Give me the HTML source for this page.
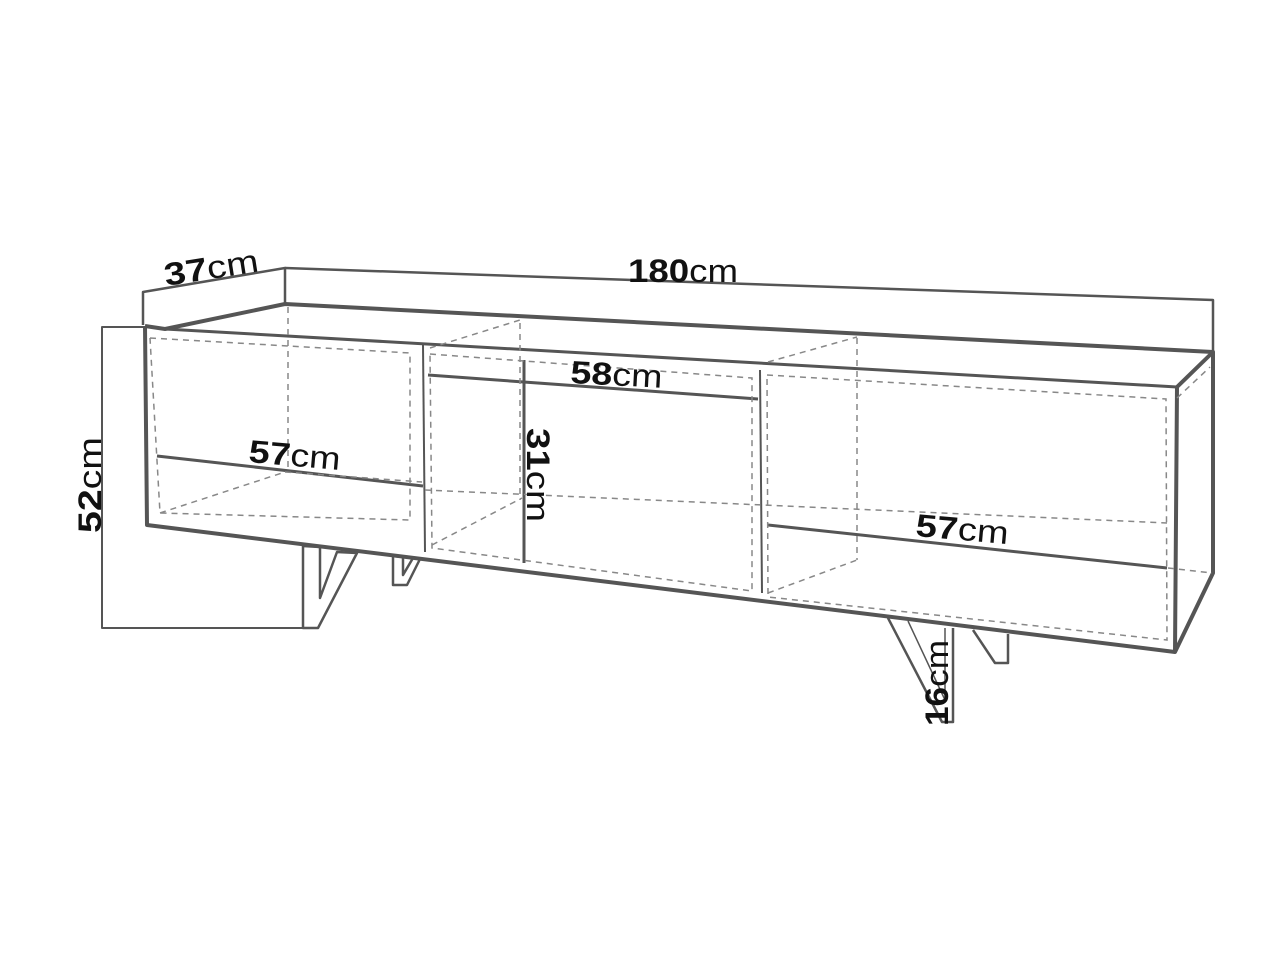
<!DOCTYPE html>
<html><head><meta charset="utf-8"><style>
html,body{margin:0;padding:0;background:#fff;}
svg{display:block;}
text{font-family:"Liberation Sans",sans-serif;fill:#111;}
.b{font-weight:bold;}
</style></head><body>
<svg width="1287" height="965" viewBox="0 0 1287 965" xmlns="http://www.w3.org/2000/svg">
<g fill="none" stroke="#555" stroke-linejoin="round">
<polyline points="143,325 143,292 285,268 285,305" stroke-width="2.5"/>
<polyline points="285,268 1213,300 1213,352" stroke-width="2.5"/>
<polyline points="145,327 102,327 102,628 303,628" stroke-width="2"/>
<polyline points="145,326 165,329 285,304 1213,352" stroke-width="4"/>
<line x1="165" y1="329" x2="1177" y2="387" stroke-width="3"/>
<polyline points="145,326 147,525 1175,652 1213,573 1213,352 1177,387 1175,652" stroke-width="4"/>
<line x1="423" y1="345" x2="425" y2="552" stroke-width="2"/>
<line x1="760" y1="370" x2="762" y2="593" stroke-width="2"/>
<line x1="157" y1="456" x2="423" y2="486" stroke-width="3"/>
<line x1="428" y1="375" x2="758" y2="399" stroke-width="3"/>
<line x1="524" y1="360" x2="524" y2="563" stroke-width="3"/>
<line x1="768" y1="525" x2="1167" y2="568" stroke-width="3"/>
<polygon points="303,546 303,628 318,628 357,553 337,552 320,598 320,547" stroke-width="2.5"/>
<polygon points="393,556 393,585 407,585 420,559 413,558 403,575 403,557" stroke-width="2.5"/>
<polyline points="888,618 942,722 953,722 953,628" stroke-width="2.5"/>
<polyline points="908,621 945,700 945,628" stroke-width="1.5"/>
<polyline points="973,630 995,663 1008,663 1008,634" stroke-width="2.5"/>
</g>
<g fill="none" stroke="#888" stroke-width="1.5" stroke-dasharray="6,5">
<polyline points="150,338 410,353 410,520 160,513 150,338"/>
<line x1="288" y1="307" x2="288" y2="470"/>
<line x1="160" y1="513" x2="285" y2="472"/>
<line x1="285" y1="472" x2="422" y2="482"/>
<polyline points="430,354 752,378 752,591 432,548 430,354"/>
<line x1="432" y1="545" x2="522" y2="498"/>
<line x1="425" y1="490" x2="1167" y2="523"/>
<line x1="520" y1="323" x2="520" y2="500"/>
<line x1="430" y1="348" x2="520" y2="320"/>
<polyline points="767,375 1166,399 1167,640 768,597 767,375"/>
<line x1="857" y1="338" x2="857" y2="560"/>
<line x1="768" y1="362" x2="857" y2="337"/>
<line x1="768" y1="593" x2="857" y2="560"/>
<line x1="1177" y1="398" x2="1210" y2="367"/>
<line x1="1168" y1="568" x2="1212" y2="573"/>
</g>
<g font-size="32">
<text x="166" y="286" transform="rotate(-9 166 286)" textLength="95" lengthAdjust="spacingAndGlyphs"><tspan class="b">37</tspan>cm</text>
<text x="628" y="282" textLength="110" lengthAdjust="spacingAndGlyphs"><tspan class="b">180</tspan>cm</text>
<text x="570" y="383" transform="rotate(3 570 383)" textLength="92" lengthAdjust="spacingAndGlyphs"><tspan class="b">58</tspan>cm</text>
<text x="248" y="462" transform="rotate(5 248 462)" textLength="92" lengthAdjust="spacingAndGlyphs"><tspan class="b">57</tspan>cm</text>
<text x="915" y="536" transform="rotate(5 915 536)" textLength="93" lengthAdjust="spacingAndGlyphs"><tspan class="b">57</tspan>cm</text>
<text x="0" y="0" transform="translate(101,533) rotate(-90)" textLength="96" lengthAdjust="spacingAndGlyphs"><tspan class="b">52</tspan>cm</text>
<text x="0" y="0" transform="translate(527,428) rotate(90)" textLength="94" lengthAdjust="spacingAndGlyphs"><tspan class="b">31</tspan>cm</text>
<text x="0" y="0" transform="translate(948,726) rotate(-90)" textLength="86" lengthAdjust="spacingAndGlyphs"><tspan class="b">16</tspan>cm</text>
</g>
</svg>
</body></html>
